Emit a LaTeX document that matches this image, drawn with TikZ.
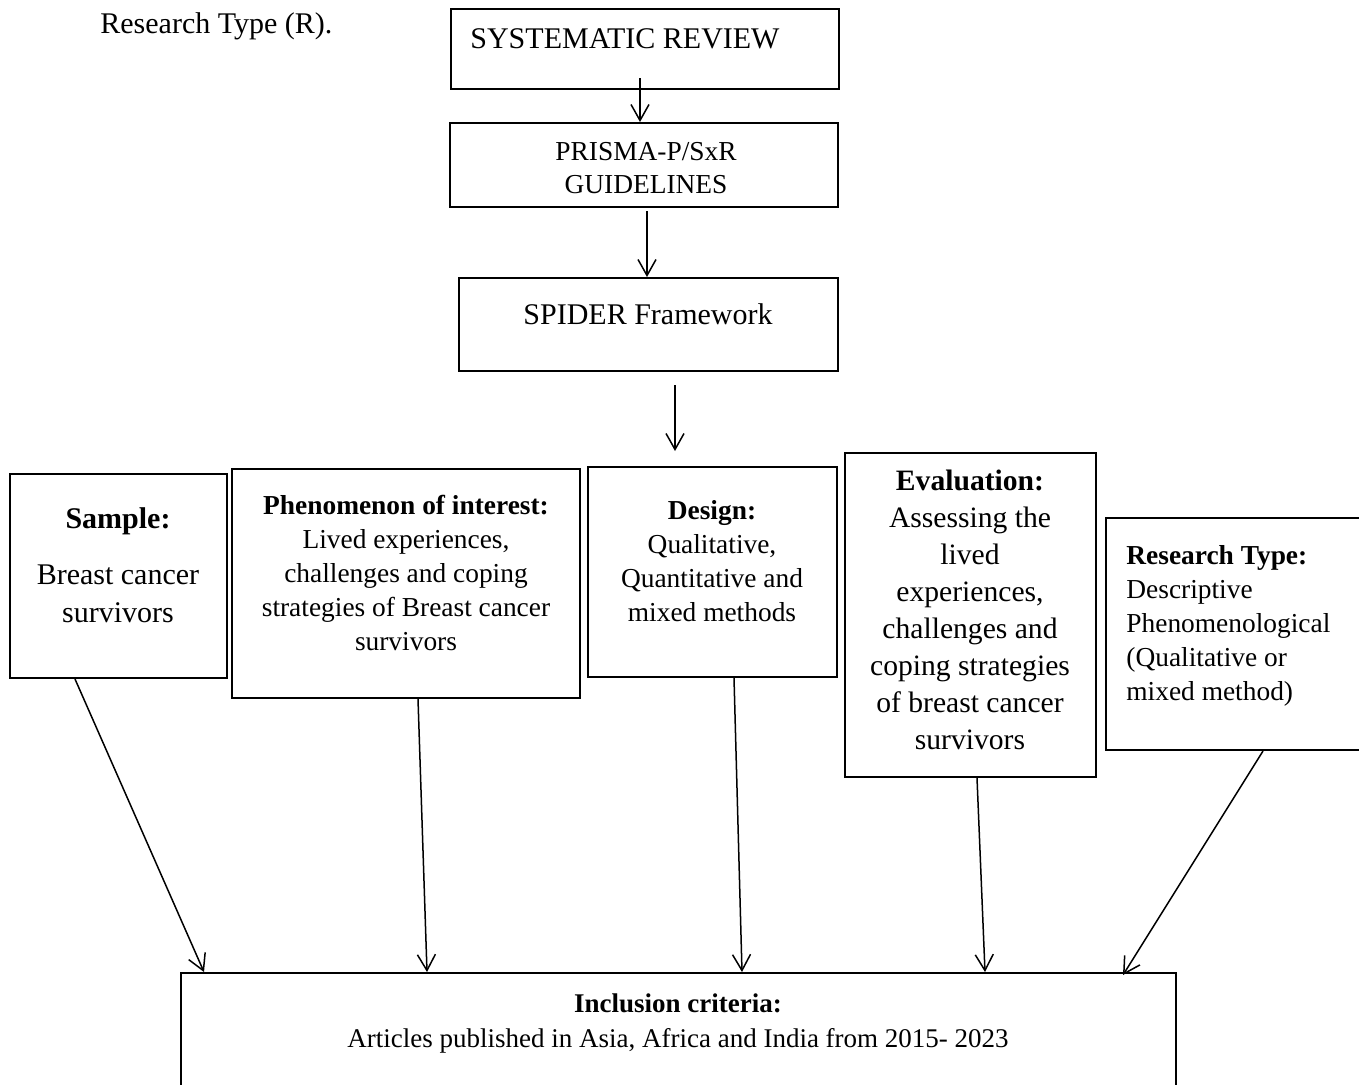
\documentclass[tikz,border=0pt]{standalone}
\usepackage{fontspec}
\setmainfont{Liberation Serif}
\usetikzlibrary{arrows.meta,calc}

\newcommand{\bigfont}{\fontsize{15}{19}\selectfont}
\newcommand{\evalfont}{\fontsize{14.8}{18.5}\selectfont}
\newcommand{\smallfont}{\fontsize{13.7}{17}\selectfont}

\tikzset{
  box/.style={draw, rectangle, line width=1pt, inner sep=0pt},
  txt/.style={inner sep=0pt, align=center},
  arr/.style={-{Straight Barb[length=8pt,width=9pt]}, line width=0.75pt}
}

\begin{document}
\begin{tikzpicture}[x=0.5pt, y=-0.5pt]
\useasboundingbox (0,0) rectangle (1359,1084);
\clip (0,0) rectangle (1359,1084);

\node[txt, anchor=base west, font=\bigfont](rtype_r) at (100,33) {Research Type (R).};

\node[box, minimum width=194pt, minimum height=40pt](sys) at (645,49) {};
\node[txt, anchor=base west, font=\bigfont](sys_t) at (470,48) {SYSTEMATIC REVIEW};

\node[box, minimum width=194pt, minimum height=42pt](prisma) at (644,165) {};
\node[txt, anchor=base, font=\fontsize{13.7}{16.5}\selectfont](prisma_t) at (646,193) {PRISMA-P/SxR\\GUIDELINES};

\node[box, minimum width=189.5pt, minimum height=46.5pt](spider) at (648.5,324.5) {};
\node[txt, anchor=base, font=\bigfont](spider_t) at (648,324) {SPIDER Framework};

\draw[arr]($(sys.south -| 640,0)+(0,-12)$) to (prisma.north -| 640,0);
\draw[arr]($(prisma.south -| 647,0)+(0,3)$) to (spider.north -| 647,0);

% SPIDER boxes
\node[box, minimum width=108.5pt, minimum height=102pt](samp) at (118.5,576) {};
\node[txt, anchor=base, font=\bigfont](samp_t) at (118,622) {\textbf{Sample:}\\[9pt]Breast cancer\\survivors};

\node[box, minimum width=174pt, minimum height=114.5pt](phen) at (406,583.5) {};
\node[txt, anchor=base, font=\smallfont](phen_t) at (406,650) {\textbf{Phenomenon of interest:}\\Lived experiences,\\challenges and coping\\strategies of Breast cancer\\survivors};

\node[box, minimum width=124.5pt, minimum height=105pt](design) at (712.5,572) {};
\node[txt, anchor=base, font=\smallfont](design_t) at (712,621) {\textbf{Design:}\\Qualitative,\\Quantitative and\\mixed methods};

\node[box, minimum width=125.5pt, minimum height=162pt](eval) at (970.5,615) {};
\node[txt, anchor=base, font=\evalfont](eval_t) at (970,749) {\textbf{Evaluation:}\\Assessing the\\lived\\experiences,\\challenges and\\coping strategies\\of breast cancer\\survivors};

\node[box, minimum width=137pt, minimum height=116pt](rtype) at (1243,634) {};
\node[txt, anchor=base west, align=left, font=\smallfont](rtype_t) at (1126,700) {\textbf{Research Type:}\\Descriptive\\Phenomenological\\(Qualitative or\\mixed method)};

\draw[arr]($(spider.south -| 675,0)+(0,13)$) to ($(design.north -| 675,0)+(0,-15)$);

\node[box, minimum width=497.5pt, minimum height=68.5pt](incl) at (678.5,1041.5) {};
\node[txt, anchor=base, font=\fontsize{13.5}{17.5}\selectfont](incl_t) at (678,1047) {\textbf{Inclusion criteria:}\\Articles published in Asia, Africa and India from 2015- 2023};

\draw[arr](samp.south -| 75,0) to (incl.north -| 204,0);
\draw[arr](phen.south -| 418,0) to (incl.north -| 427,0);
\draw[arr](design.south -| 734,0) to (incl.north -| 742,0);
\draw[arr](eval.south -| 977,0) to (incl.north -| 985,0);
\draw[arr](rtype.south -| 1263,0) to ($(incl.north -| 1123,0)+(0,3)$);

\end{tikzpicture}
\end{document}
